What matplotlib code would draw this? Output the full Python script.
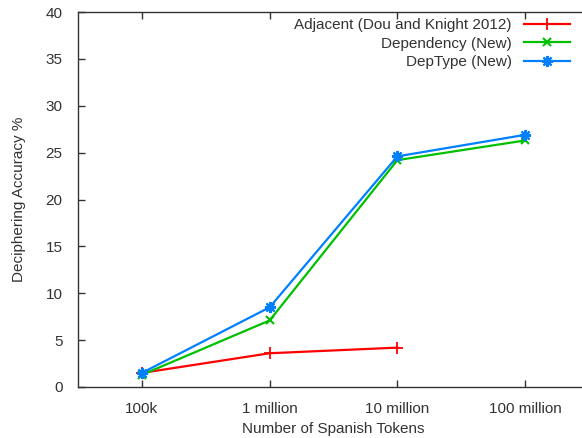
import matplotlib
matplotlib.use('Agg')
import matplotlib.pyplot as plt

plt.rcParams['font.family'] = ['Liberation Sans', 'DejaVu Sans']

tokens = ['100k', '1 million', '10 million', '100 million']
adjacent = [1.5, 3.6, 4.2]
dependency = [1.3, 7.1, 24.2, 26.3]
deptype = [1.5, 8.5, 24.6, 26.9]

textcolor = '#333333'
fontsize = 11
linewidth = 1.6

fig = plt.figure(figsize=(5.82, 4.38), dpi=100)
ax = fig.add_axes([78 / 582, 51 / 438, 511 / 582, 375 / 438])

x = list(range(1, len(tokens) + 1))
ax.plot(x[:len(adjacent)], adjacent, color='#ff0000', marker='+', markersize=8,
        markeredgewidth=1.3, linewidth=linewidth, label='Adjacent (Dou and Knight 2012)')
ax.plot(x, dependency, color='#00c000', marker='x', markersize=6,
        markeredgewidth=1.5, linewidth=linewidth, label='Dependency (New)')
ax.plot(x, deptype, color='#0080ff', marker=(8, 2, 0), markersize=8,
        markeredgewidth=1.5, linewidth=linewidth, label='DepType (New)')

ax.set_xlim(0.5, 4.5)
ax.set_ylim(0, 40)
ax.set_xticks(x)
ax.set_xticklabels(tokens)
ax.set_yticks(range(0, 41, 5))
ax.tick_params(direction='in', length=5, width=1, colors=textcolor,
               labelsize=fontsize, top=True)
ax.tick_params(axis='x', pad=11)
ax.tick_params(axis='y', pad=11)
for side in ['left', 'bottom', 'top']:
    ax.spines[side].set_color(textcolor)
    ax.spines[side].set_linewidth(1)
ax.spines['right'].set_visible(False)

ax.set_xlabel('Number of Spanish Tokens', fontsize=fontsize, color=textcolor, labelpad=4)
ax.set_ylabel('Deciphering Accuracy %', fontsize=fontsize, color=textcolor, labelpad=14)

leg = fig.legend(loc='upper right', bbox_to_anchor=(570 / 582, 1 - 18 / 438),
                 frameon=False, markerfirst=False, fontsize=fontsize,
                 handlelength=3.0, handletextpad=0.8, labelspacing=0.3,
                 borderpad=0, borderaxespad=0)
for t in leg.get_texts():
    t.set_color(textcolor)
    t.set_ha('right')
leg._legend_box.align = 'right'

fig.savefig('out.png', dpi=100)
